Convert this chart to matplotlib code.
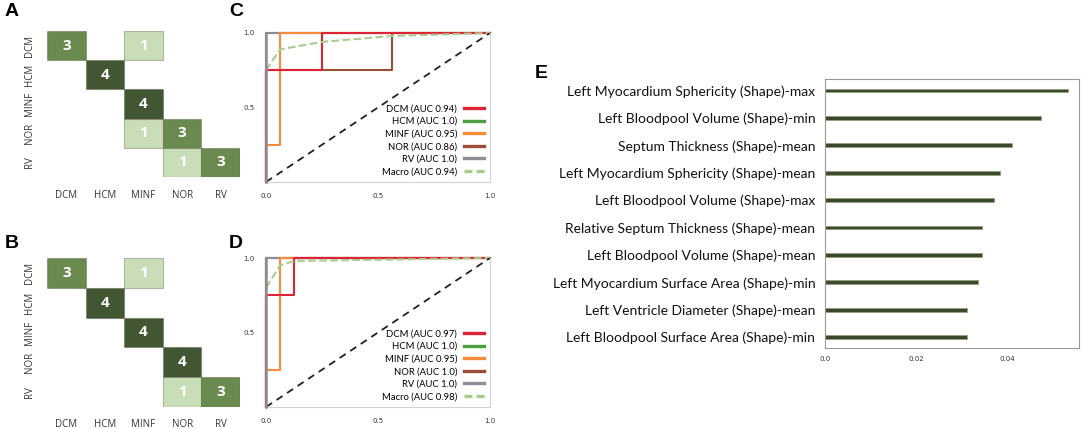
import numpy as np
import matplotlib
matplotlib.use("Agg")
import matplotlib.pyplot as plt
from matplotlib.colors import LinearSegmentedColormap, Normalize
from matplotlib.lines import Line2D
from matplotlib.patches import Rectangle

# ---- data ----
classes = ["DCM", "HCM", "MINF", "NOR", "RV"]

cm_a = [[3, 0, 1, 0, 0],
        [0, 4, 0, 0, 0],
        [0, 0, 4, 0, 0],
        [0, 0, 1, 3, 0],
        [0, 0, 0, 1, 3]]
cm_b = [[3, 0, 1, 0, 0],
        [0, 4, 0, 0, 0],
        [0, 0, 4, 0, 0],
        [0, 0, 0, 4, 0],
        [0, 0, 0, 1, 3]]

# ROC curves (fpr, tpr), panel C
roc_c = {
    "DCM": ([0, 0, 0.25, 0.25, 1], [0, 0.75, 0.75, 1, 1]),
    "HCM": ([0, 0, 1], [0, 1, 1]),
    "MINF": ([0, 0, 0.0625, 0.0625, 1], [0, 0.25, 0.25, 1, 1]),
    "NOR": ([0, 0, 0.5625, 0.5625, 1], [0, 0.75, 0.75, 1, 1]),
    "RV": ([0, 0, 1], [0, 1, 1]),
    "Macro": ([0, 0.0625, 0.25, 0.5625, 1], [0.75, 0.89, 0.94, 0.98, 1]),
}
auc_c = ["0.94", "1.0", "0.95", "0.86", "1.0", "0.94"]

# panel D
roc_d = {
    "DCM": ([0, 0, 0.125, 0.125, 1], [0, 0.75, 0.75, 1, 1]),
    "HCM": ([0, 0, 1], [0, 1, 1]),
    "MINF": ([0, 0, 0.0625, 0.0625, 1], [0, 0.25, 0.25, 1, 1]),
    "NOR": ([0, 0, 1], [0, 1, 1]),
    "RV": ([0, 0, 1], [0, 1, 1]),
    "Macro": ([0, 0.0625, 0.125, 1], [0.80, 0.95, 0.98, 1]),
}
auc_d = ["0.97", "1.0", "0.95", "1.0", "1.0", "0.98"]

features = [
    "Left Myocardium Sphericity (Shape)-max",
    "Left Bloodpool Volume (Shape)-min",
    "Septum Thickness (Shape)-mean",
    "Left Myocardium Sphericity (Shape)-mean",
    "Left Bloodpool Volume (Shape)-max",
    "Relative Septum Thickness (Shape)-mean",
    "Left Bloodpool Volume (Shape)-mean",
    "Left Myocardium Surface Area (Shape)-min",
    "Left Ventricle Diameter (Shape)-mean",
    "Left Bloodpool Surface Area (Shape)-min",
]
importance = [0.0534, 0.0475, 0.0411, 0.0385, 0.0371,
              0.0345, 0.0345, 0.0336, 0.0312, 0.0312]

# ---- styles ----
line_colors = {"DCM": "#dc2436", "HCM": "#4c9f3f", "MINF": "#f68c3a",
               "NOR": "#9c4f38", "RV": "#8e8d96", "Macro": "#a9cc8e"}
line_z = {"HCM": 1.0, "NOR": 1.1, "RV": 1.2, "MINF": 1.3, "DCM": 1.4, "Macro": 1.5}
cmap = LinearSegmentedColormap.from_list(
    "grn", [(0, "#c9ddb8"), (2 / 3, "#6a8a4f"), (1, "#435633")])
norm = Normalize(vmin=1, vmax=4)

fig = plt.figure(figsize=(10.84, 4.29), dpi=100)


def draw_cm(rect, cm):
    ax = fig.add_axes(rect)
    for i in range(5):
        for j in range(5):
            v = cm[i][j]
            if v > 0:
                ax.add_patch(Rectangle((j, i), 1, 1, facecolor=cmap(norm(v)),
                                       edgecolor=(0.25, 0.3, 0.2, 0.35),
                                       linewidth=0.8))
                ax.text(j + 0.5, i + 0.5, str(v), ha="center",
                        va="center", color="white", fontsize=11,
                        fontweight="bold", family="Open Sans")
    ax.set_xlim(0, 5)
    ax.set_ylim(5, 0)
    ax.set_xticks(np.arange(5) + 0.5)
    ax.set_yticks(np.arange(5) + 0.5)
    ax.set_xticklabels(classes, fontsize=7, color="#333333", family="Open Sans")
    ax.set_yticklabels(classes, fontsize=7, color="#333333", rotation=90,
                       va="center", family="Open Sans")
    ax.tick_params(length=0, pad=9)
    for s in ax.spines.values():
        s.set_visible(False)
    return ax


def draw_roc(rect, roc, aucs):
    ax = fig.add_axes(rect)
    handles = []
    for k, name in enumerate(roc):
        fpr, tpr = roc[name]
        ls = "--" if name == "Macro" else "-"
        ax.plot(fpr, tpr, color=line_colors[name], lw=1.5, ls=ls,
                zorder=line_z[name], clip_on=False)
        hls = (0, (2.4, 1.2)) if name == "Macro" else "-"
        handles.append(Line2D([], [], color=line_colors[name], lw=2.4, ls=hls,
                              label=f"{name} (AUC {aucs[k]})"))
    ax.plot([0, 1], [0, 1], color="#1f1f2a", lw=1.3, ls=(0, (4, 3)), zorder=1.6)
    ax.set_xlim(0, 1)
    ax.set_ylim(0, 1)
    ax.set_xticks([0, 0.5, 1])
    ax.set_xticklabels(["0.0", "0.5", "1.0"])
    ax.set_yticks([0.5, 1])
    ax.set_yticklabels(["0.5", "1.0"])
    ax.tick_params(length=0, labelsize=5, colors="#333333", pad=8)
    for s in ax.spines.values():
        s.set_color("#d3d3d3")
        s.set_linewidth(0.8)
    ax.spines["top"].set_visible(False)
    ax.spines["left"].set_color(line_colors["RV"])
    ax.spines["left"].set_linewidth(1.8)
    ax.spines["left"].set_zorder(3)
    leg = ax.legend(handles=handles, loc="lower right", frameon=False,
                    markerfirst=False, handlelength=2.2, handletextpad=0.7,
                    labelspacing=0.38, borderaxespad=0.2,
                    prop={"family": "Lato", "size": 6.8})
    for t in leg.get_texts():
        t.set_ha("right")
    return ax


draw_cm([0.0434, 0.5874, 0.178, 0.3403], cm_a)
draw_cm([0.0434, 0.0513, 0.178, 0.3473], cm_b)
draw_roc([0.2454, 0.5758, 0.2066, 0.3473], roc_c, auc_c)
draw_roc([0.2454, 0.0513, 0.2066, 0.3473], roc_d, auc_d)

# feature importance
axe = fig.add_axes([0.7611, 0.1888, 0.2343, 0.627])
ypos = np.arange(len(features))
axe.barh(ypos, importance, height=0.14, color="#3a4a2a",
         edgecolor="#8d9c78", linewidth=0.5)
axe.set_ylim(len(features) - 0.6, -0.42)
axe.set_xlim(0, 0.0558)
axe.set_yticks(ypos)
axe.set_yticklabels(features, fontsize=10, family="Lato", color="#111111",
                    va="center_baseline")
axe.set_xticks([0, 0.02, 0.04])
axe.set_xticklabels(["0.0", "0.02", "0.04"])
axe.tick_params(axis="x", length=0, labelsize=5, colors="#333333", pad=6)
axe.tick_params(axis="y", length=0, pad=7)
for s in axe.spines.values():
    s.set_color("#9a9a9a")
    s.set_linewidth(0.8)

# panel letters
for x, y, s in [(12, 12, "A"), (236, 12, "C"), (12, 243, "B"),
                (236, 243, "D"), (541, 73, "E")]:
    fig.text(x / 1084, 1 - y / 429, s, fontsize=14, fontweight="bold",
             ha="center", va="center", family="Liberation Sans")

fig.savefig("out.png", dpi=100)
